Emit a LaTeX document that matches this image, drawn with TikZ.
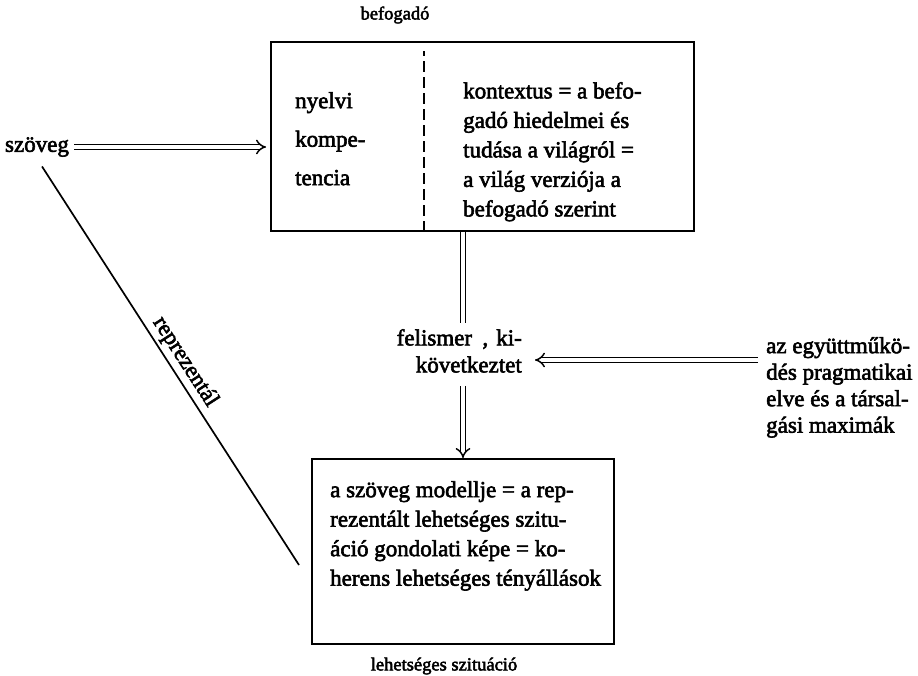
\documentclass[tikz,border=0pt]{standalone}
\usepackage{fontspec}
\setmainfont{Liberation Serif}[FakeBold=2.5]
\usetikzlibrary{arrows.meta}
\newcommand{\topln}{\rule{0pt}{16pt}}
\begin{document}
\begin{tikzpicture}[x=1pt,y=-1pt,
  box/.style={draw, line width=2pt, inner sep=0pt},
  txt/.style={inner sep=0pt, font=\fontsize{23}{29.5}\selectfont, align=left, anchor=north west},
  captxt/.style={inner sep=0pt, font=\fontsize{18.5}{23}\selectfont},
  dbl/.style={double, double distance=3.5pt, line width=1.5pt},
  dblarrow/.style={dbl, -{Implies[scale=1.5]}},
  divider/.style={line width=1.8pt, dash pattern=on 11pt off 5pt},
  rel/.style={line width=1.7pt}]
\useasboundingbox (0,0) rectangle (918,676);

\node[captxt] (befog) at (395,15) {befogadó};
\node[box, minimum width=423pt, minimum height=189pt] (top) at (482.5,136.5) {};
\path (top.south west) ++(154,0) coordinate (dvb);
\draw[divider] (dvb) -- ++(0,-181);
\node[txt, font=\fontsize{23}{38.5}\selectfont] (nyelvi) at (295,92) {\topln nyelvi\\kompe-\\tencia};
\node[txt] (kontext) at (463,82) {\topln kontextus = a befo-\\gadó hiedelmei és\\tudása a világról =\\a világ verziója a\\befogadó szerint};

\node[box, minimum width=302pt, minimum height=185pt] (model) at (463,551.5) {};
\node[txt] (modtext) at (330,481) {\topln a szöveg modellje = a rep-\\rezentált lehetséges szitu-\\áció gondolati képe = ko-\\herens lehetséges tényállások};
\node[captxt] (lehet) at (444,666) {lehetséges szituáció};

\node[inner sep=1pt, font=\fontsize{23}{26}\selectfont] (szoveg) at (37,147) {szöveg};
\node[txt, align=right, anchor=north east, font=\fontsize{23}{27}\selectfont] (felis) at (522,329) {\topln felismer\hspace{0.45em}, \hspace{0.1em}ki-\\következtet};
\node[txt, font=\fontsize{23}{26.5}\selectfont] (rtext) at (766,337) {\topln az együttműkö-\\dés pragmatikai\\elve és a társal-\\gási maximák};

\coordinate (ra) at (535,360);
\draw[dblarrow, shorten <=4pt, shorten >=4pt] (szoveg.east) -- (top.west |- szoveg.east);
\draw[dbl, shorten >=6pt] (top.south -| model.north) -- (felis.north -| model.north);
\draw[dblarrow, shorten <=13pt] (felis.south -| model.north) -- (model.north);
\draw[dblarrow, shorten <=8pt] (rtext.west |- ra) -- (ra);
\draw[rel] ([xshift=5pt, yshift=-8.5pt]szoveg.south) -- ([xshift=-12pt, yshift=-13.5pt]model.west)
  node[pos=0.51, sloped, above=3pt, inner sep=0pt, font=\fontsize{23}{26}\selectfont] (repr) {reprezentál};
\end{tikzpicture}
\end{document}
